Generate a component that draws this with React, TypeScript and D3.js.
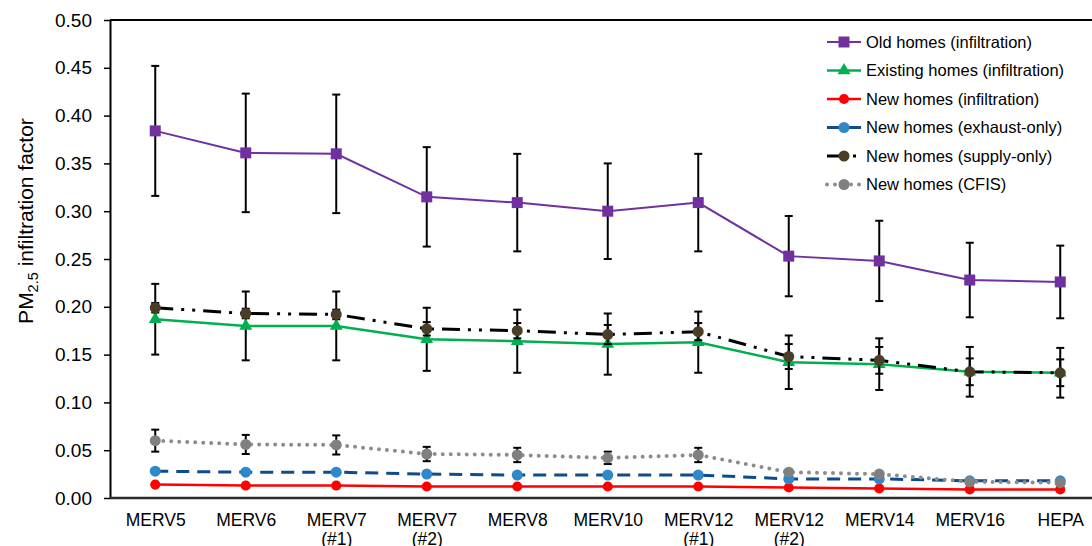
import React, { useEffect, useRef } from 'react';
import * as d3 from 'd3';

// categories (second line after \n)
const categories = [
  'MERV5', 'MERV6', 'MERV7\n(#1)', 'MERV7\n(#2)', 'MERV8', 'MERV10',
  'MERV12\n(#1)', 'MERV12\n(#2)', 'MERV14', 'MERV16', 'HEPA'
];
const yTicks = [0, 0.05, 0.1, 0.15, 0.2, 0.25, 0.3, 0.35, 0.4, 0.45, 0.5];

const oldHomes = [0.384, 0.361, 0.360, 0.315, 0.309, 0.300, 0.309, 0.253, 0.248, 0.228, 0.226];
const oldHomesErr = [0.068, 0.062, 0.062, 0.052, 0.051, 0.050, 0.051, 0.042, 0.042, 0.039, 0.038];

const existingHomes = [0.187, 0.180, 0.180, 0.166, 0.164, 0.161, 0.163, 0.142, 0.140, 0.132, 0.131];
const existingHomesErr = [0.037, 0.036, 0.036, 0.033, 0.033, 0.032, 0.032, 0.028, 0.027, 0.026, 0.026];

const newInfiltration = [0.014, 0.013, 0.013, 0.012, 0.012, 0.012, 0.012, 0.011, 0.010, 0.009, 0.009];

const newExhaust = [0.028, 0.027, 0.027, 0.025, 0.024, 0.024, 0.024, 0.020, 0.020, 0.018, 0.018];

const newSupply = [0.199, 0.193, 0.192, 0.177, 0.175, 0.171, 0.174, 0.148, 0.144, 0.132, 0.131];
const newSupplyErr = [0.005, 0.005, 0.005, 0.007, 0.008, 0.010, 0.009, 0.013, 0.014, 0.014, 0.014];

const newCfis = [0.060, 0.056, 0.0555, 0.046, 0.045, 0.042, 0.045, 0.027, 0.025, 0.017, 0.016];
const newCfisErr = [0.0115, 0.010, 0.010, 0.0075, 0.0075, 0.0065, 0.0075, 0.002, 0.002, 0.001, 0.001];

const FONT = '"Liberation Sans", Arial, sans-serif';

export default function App() {
  const ref = useRef<SVGSVGElement>(null);

  useEffect(() => {
    const svg = d3.select(ref.current);
    svg.selectAll('*').remove();

    const margin = { left: 110, top: 20, bottom: 498 };

    const x = d3.scalePoint<string>()
      .domain(categories)
      .range([margin.left, margin.left + 11 * 90.5])
      .padding(0.5);

    const y = d3.scaleLinear().domain([0, 0.5]).range([margin.bottom, margin.top]);

    const series = [
      { name: 'Old homes (infiltration)', values: oldHomes, err: oldHomesErr,
        line: '#7030A0', fill: '#7030A0', width: 2, dash: null, cap: 'butt',
        symbol: d3.symbolSquare, size: 121 },
      { name: 'Existing homes (infiltration)', values: existingHomes, err: existingHomesErr,
        line: '#00B050', fill: '#00B050', width: 2.5, dash: null, cap: 'butt',
        symbol: d3.symbolTriangle, size: 72 },
      { name: 'New homes (infiltration)', values: newInfiltration, err: null,
        line: '#FF0000', fill: '#FF0000', width: 2.5, dash: null, cap: 'butt',
        symbol: d3.symbolCircle, size: 80 },
      { name: 'New homes (exhaust-only)', values: newExhaust, err: null,
        line: '#0E4C8C', fill: '#2F88CA', width: 3, dash: '13 8', cap: 'butt',
        symbol: d3.symbolCircle, size: 95 },
      { name: 'New homes (supply-only)', values: newSupply, err: newSupplyErr,
        line: '#000000', fill: '#4A3F26', width: 3, dash: '18 8 3 8 3 8', cap: 'butt',
        symbol: d3.symbolCircle, size: 95 },
      { name: 'New homes (CFIS)', values: newCfis, err: newCfisErr,
        line: '#8C8C8C', fill: '#808080', width: 4, dash: '0 8', cap: 'round',
        symbol: d3.symbolCircle, size: 95 }
    ];

    // y axis
    const yAxis = svg.append('g')
      .attr('transform', 'translate(' + margin.left + ',0)')
      .call(d3.axisLeft(y).tickValues(yTicks).tickFormat(d3.format('.2f')).tickSize(6).tickSizeOuter(0).tickPadding(12));
    yAxis.select('.domain').attr('stroke', '#000').attr('stroke-width', 2);
    yAxis.selectAll('.tick line').attr('stroke', '#000').attr('stroke-width', 1.5);
    yAxis.selectAll('.tick text')
      .style('font', '19px ' + FONT)
      .attr('fill', '#000');

    // top border
    svg.append('line')
      .attr('x1', margin.left).attr('x2', 1092)
      .attr('y1', margin.top).attr('y2', margin.top)
      .attr('stroke', '#000').attr('stroke-width', 2);

    // x axis
    const xAxis = svg.append('g')
      .attr('transform', 'translate(0,' + margin.bottom + ')')
      .call(d3.axisBottom(x).tickSize(0).tickSizeOuter(0));
    xAxis.select('.domain')
      .attr('d', 'M' + margin.left + ',0H1092')
      .attr('stroke', '#2b2b2b').attr('stroke-width', 2.5);
    xAxis.selectAll('.tick text').each(function (d) {
      const t = d3.select(this);
      const parts = String(d).split('\n');
      t.text(null).attr('y', 0).attr('dy', null)
        .style('font', '17.5px ' + FONT).attr('fill', '#000');
      parts.forEach(function (p, i) {
        t.append('tspan').attr('x', 0).attr('y', 28 + i * 19).text(p);
      });
    });

    // y label
    const yl = svg.append('text')
      .attr('transform', 'translate(33,221) rotate(-90)')
      .attr('text-anchor', 'middle')
      .style('font', '21px ' + FONT)
      .attr('fill', '#000');
    yl.append('tspan').text('PM');
    yl.append('tspan').attr('dy', 5).style('font-size', '14.5px').text('2.5');
    yl.append('tspan').attr('dy', -5).text(' infiltration factor');

    const line = d3.line<number>()
      .x(function (d, i) { return x(categories[i]) as number; })
      .y(function (d) { return y(d); });

    series.forEach(function (s) {
      const g = svg.append('g');
      g.append('path')
        .attr('d', line(s.values))
        .attr('fill', 'none')
        .attr('stroke', s.line)
        .attr('stroke-width', s.width)
        .attr('stroke-dasharray', s.dash)
        .attr('stroke-linecap', s.cap);

      if (s.err) {
        const err = s.err;
        const eb = g.selectAll('.eb')
          .data(s.values)
          .enter().append('g')
          .attr('stroke', '#000')
          .attr('stroke-width', 2);
        eb.append('line')
          .attr('x1', function (d, i) { return x(categories[i]) as number; })
          .attr('x2', function (d, i) { return x(categories[i]) as number; })
          .attr('y1', function (d, i) { return y(d - err[i]); })
          .attr('y2', function (d, i) { return y(d + err[i]); });
        [-1, 1].forEach(function (sign) {
          eb.append('line')
            .attr('x1', function (d, i) { return (x(categories[i]) as number) - 4; })
            .attr('x2', function (d, i) { return (x(categories[i]) as number) + 4; })
            .attr('y1', function (d, i) { return y(d + sign * err[i]); })
            .attr('y2', function (d, i) { return y(d + sign * err[i]); });
        });
      }

      g.selectAll('.mk')
        .data(s.values)
        .enter().append('path')
        .attr('d', d3.symbol().type(s.symbol).size(s.size)())
        .attr('transform', function (d, i) {
          return 'translate(' + x(categories[i]) + ',' + y(d) + ')';
        })
        .attr('fill', s.fill);
    });

    // legend
    const legend = svg.selectAll('.legend')
      .data(series)
      .enter().append('g')
      .attr('transform', function (d, i) { return 'translate(827,' + (42 + i * 28.5) + ')'; });

    legend.append('line')
      .attr('x1', 0).attr('x2', 34)
      .attr('stroke', function (d) { return d.line; })
      .attr('stroke-width', function (d) { return d.width; })
      .attr('stroke-dasharray', function (d) { return d.dash; })
      .attr('stroke-linecap', function (d) { return d.cap; });

    legend.append('path')
      .attr('d', function (d) { return d3.symbol().type(d.symbol).size(d.size)(); })
      .attr('transform', 'translate(17,0)')
      .attr('fill', function (d) { return d.fill; });

    legend.append('text')
      .attr('x', 39)
      .attr('dy', '0.35em')
      .style('font', '16.5px ' + FONT)
      .attr('fill', '#000')
      .text(function (d) { return d.name; });
  }, []);

  return (
    <>
      <style>{'body{margin:0}'}</style>
      <svg ref={ref} width={1092} height={546} style={{ display: 'block', background: '#fff' }} />
    </>
  );
}
